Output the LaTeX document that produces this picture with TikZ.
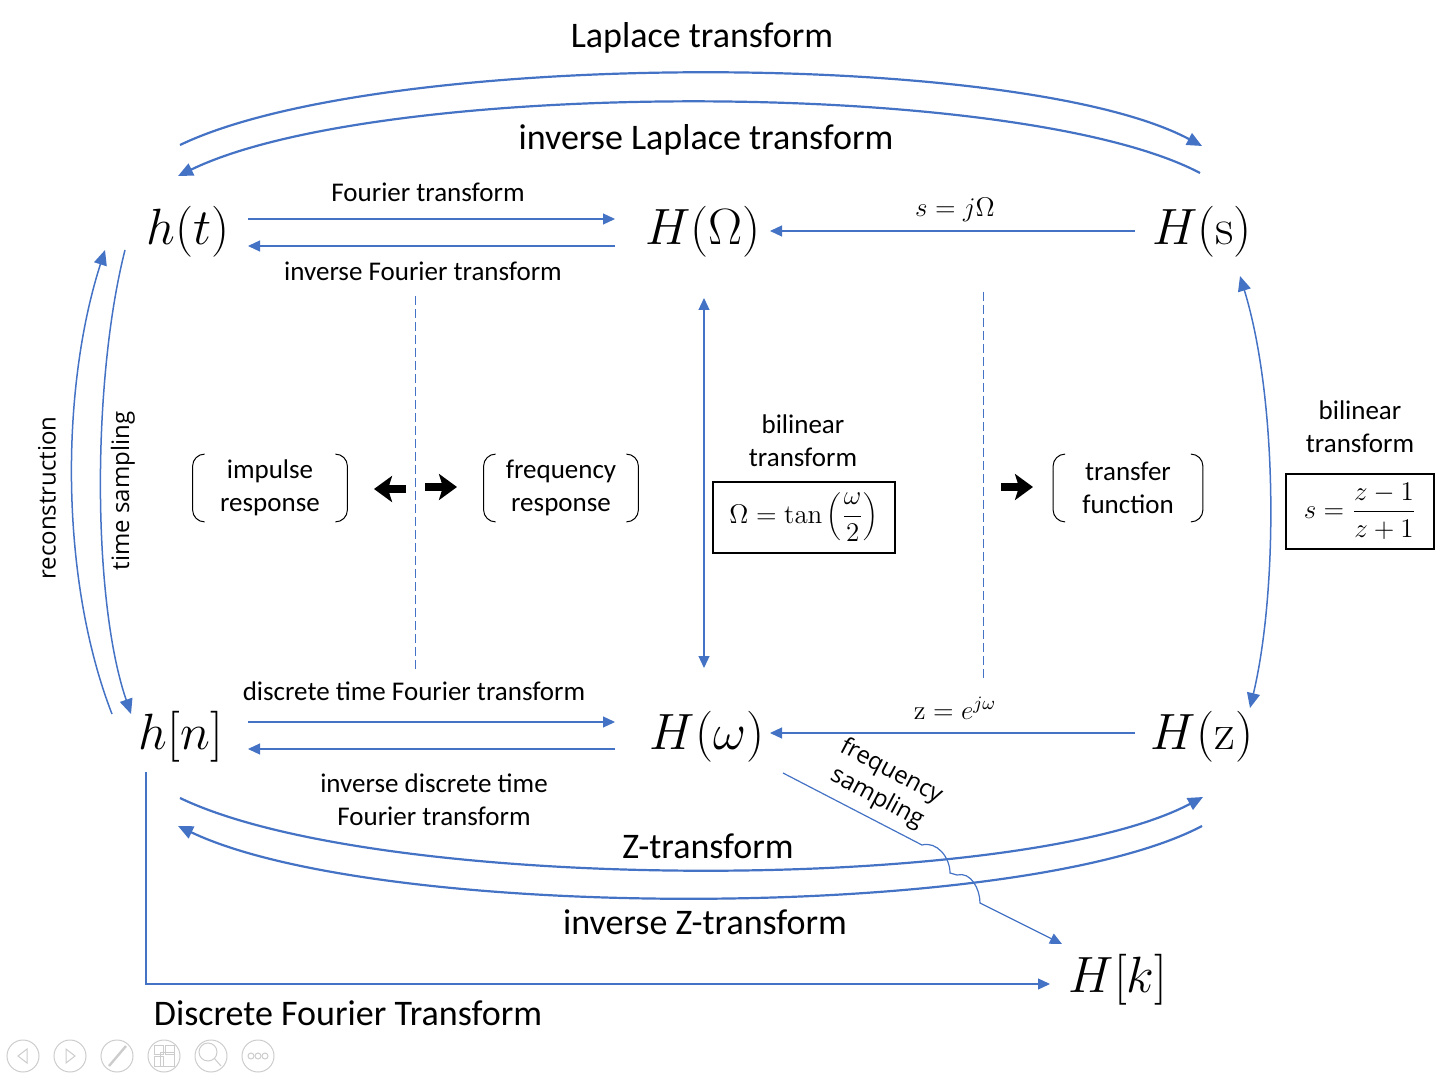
\RequirePackage{fix-cm}
\documentclass[tikz,border=0pt]{standalone}
\usepackage[no-math]{fontspec}
\setmainfont{Carlito}
\newfontfamily\uifont{Open Sans}
\usepackage{tikz}
\usetikzlibrary{arrows.meta}
\definecolor{officeBlue}{HTML}{4472C4}
\tikzset{>={Triangle[length=6pt,width=5.5pt]}}
\tikzstyle{func} = [inner sep=0pt, font=\fontsize{25.5}{30}\selectfont]
\tikzstyle{lbl} = [inner sep=0pt, align=center, font=\fontsize{13.5}{16.5}\selectfont]
\tikzstyle{bigLbl} = [inner sep=0pt, font=\fontsize{18}{21}\selectfont]
\tikzstyle{sideLbl} = [inner sep=0pt, align=center, font=\uifont\fontsize{12}{15}\selectfont]
\tikzstyle{eqBox} = [draw, line width=1pt, inner sep=0pt, font=\fontsize{13.5}{16}\selectfont]
\tikzstyle{brkNode} = [lbl, minimum height=33.5pt]
\tikzstyle{brk} = [draw, line width=0.5pt, rounded corners=6pt]
\tikzstyle{arrowLine} = [draw, officeBlue, line width=0.6pt, ->]
\tikzstyle{curveArrow} = [draw, officeBlue, line width=1.1pt, -{Triangle[length=7.5pt,width=6.5pt]}]
\tikzstyle{sepLine} = [draw, officeBlue, line width=0.5pt, dash pattern=on 4.5pt off 2pt]
\tikzstyle{bigArrow} = [draw, line width=4pt, -{Stealth[length=9pt,width=13pt,inset=2pt]}]
\tikzstyle{uiIcon} = [draw=black!20, line width=0.5pt]

\begin{document}
\begin{tikzpicture}[x=0.5pt,y=-0.5pt]
		\useasboundingbox (0,0) rectangle (1440,1080);
		\node[func](ht) at (188,232){$h(t)$};
		\node[func](HO) at (703,232){$H(\Omega)$};
		\node[func](Hs) at (1202,232){$H(\mathrm{s})$};
		\node[func](hn) at (181,737){$h[n]$};
		\node[func](Hw) at (707,737){$H(\omega)$};
		\node[func](Hz) at (1202,737){$H(\mathrm{z})$};
		\node[func](Hk) at (1118,980){$H[k]$};
		%labels
		\node[bigLbl](lapLbl) at (702,38){Laplace transform};
		\node[bigLbl](iLapLbl) at (706,140){inverse Laplace transform};
		\node[lbl](ftLbl) at (428,192){Fourier transform};
		\node[lbl](iftLbl) at (423,271){inverse Fourier transform};
		\node[lbl](sjLbl) at (955,210){$s=j\Omega$};
		\node[lbl](dtftLbl) at (414,691){discrete time Fourier transform};
		\node[lbl](idtftLbl) at (434,800){inverse discrete time\\Fourier transform};
		\node[lbl](zeLbl) at (955,708){$\mathrm{z}=e^{j\omega}$};
		\node[sideLbl,rotate=-28](fsLbl) at (884,785){frequency\\sampling};
		\node[bigLbl](ztLbl) at (708,846){Z-transform};
		\node[bigLbl](iztLbl) at (705,922){inverse Z-transform};
		\node[bigLbl](dftLbl) at (348,1013){Discrete Fourier Transform};
		\node[sideLbl,rotate=90](reconLbl) at (47,498){reconstruction};
		\node[sideLbl,rotate=90](sampLbl) at (123,491){time sampling};
		\node[lbl](bilinLbl) at (803,441){bilinear\\transform};
		\node[eqBox,minimum width=91pt,minimum height=35.5pt](tanBox) at (804,517){$\displaystyle\Omega=\tan\left(\frac{\omega}{2}\right)$};
		\node[lbl](bilinLbl2) at (1360,427){bilinear\\transform};
		\node[eqBox,minimum width=74pt,minimum height=37.5pt](sBox) at (1360,511){$\displaystyle s=\frac{z-1}{z+1}$};
		\node[brkNode,minimum width=77pt](impulse) at (270,488){impulse\\response};
		\node[brkNode,minimum width=77pt](freqResp) at (561,488){frequency\\response};
		\node[brkNode,minimum width=74.5pt](transfer) at (1128,488){transfer\\function};
		\foreach \n in {impulse,freqResp,transfer}{
			\draw[brk]([xshift=6pt]\n.north west)--(\n.north west)--(\n.south west)--([xshift=6pt]\n.south west);
			\draw[brk]([xshift=-6pt]\n.north east)--(\n.north east)--(\n.south east)--([xshift=-6pt]\n.south east);
		}
		\draw[bigArrow](406,489)--(374,489);
		\draw[bigArrow](425,487)--(457,487);
		\draw[bigArrow](1001,487)--(1033,487);
		\draw[sepLine](415,296)--(415,670);
		\draw[sepLine](983,292)--(983,680);
		%arrows
		\path[arrowLine]([shift={(60,-13)}]ht.center)--([shift={(-88,-13)}]HO.center);
		\path[arrowLine]([shift={(-88,14)}]HO.center)--([shift={(60,14)}]ht.center);
		\path[arrowLine]([shift={(-67,-1)}]Hs.center)--([shift={(67,-1)}]HO.center);
		\path[arrowLine,<->]([shift={(1,66)}]HO.center)--([shift={(-3,-69)}]Hw.center);
		\path[arrowLine]([shift={(67,-15)}]hn.center)--([shift={(-92,-15)}]Hw.center);
		\path[arrowLine]([shift={(-92,12)}]Hw.center)--([shift={(67,12)}]hn.center);
		\path[arrowLine]([shift={(-67,-4)}]Hz.center)--([shift={(63,-4)}]Hw.center);
		\path[arrowLine]([shift={(76,36)}]Hw.center)--(922,845) to[out=15,in=90] (950,873)--(957,875) to[out=15,in=90] (980,903)--([shift={(-56,-36)}]Hk.center);
		\path[arrowLine]([shift={(-35,35)}]hn.center)|-([shift={(-68,4)}]Hk.center);
		\path[curveArrow]([shift={(-8,-87)}]ht.center) .. controls (380,49) and (1020,49) .. ([shift={(0,-86)}]Hs.center);
		\path[curveArrow]([shift={(-2,-59)}]Hs.center) .. controls (1020,78) and (380,78) .. ([shift={(-10,-56)}]ht.center);
		\path[curveArrow]([shift={(-1,61)}]hn.center) .. controls (380,894) and (1020,894) .. ([shift={(1,60)}]Hz.center);
		\path[curveArrow]([shift={(0,89)}]Hz.center) .. controls (1020,922) and (380,922) .. ([shift={(-3,89)}]hn.center);
		\path[curveArrow,line width=0.75pt]([shift={(-63,18)}]ht.center) .. controls (92,380) and (92,600) .. ([shift={(-50,-23)}]hn.center);
		\path[curveArrow,line width=0.75pt]([shift={(-69,-23)}]hn.center) .. controls (60,580) and (60,390) .. ([shift={(-83,18)}]ht.center);
		\path[curveArrow,line width=0.75pt,{Triangle[length=7.5pt,width=6.5pt]}-{Triangle[length=7.5pt,width=6.5pt]}]([shift={(38,44)}]Hs.center) .. controls (1278,400) and (1278,590) .. ([shift={(48,-29)}]Hz.center);
		%slide controls
		\foreach \x in {23,70,117,164,211,258}{\draw[uiIcon](\x,1056) circle[radius=8pt];}
		\draw[uiIcon](27,1049)--(18,1056)--(27,1063)--cycle;
		\draw[uiIcon](66,1049)--(75,1056)--(66,1063)--cycle;
		\draw[uiIcon,line width=1.2pt](109,1066)--(126,1046);
		\draw[uiIcon](154,1045) rectangle (163,1054) (165,1045) rectangle (174,1054) (154,1056) rectangle (163,1066) (160,1052) rectangle (174,1066);
		\draw[uiIcon](208,1052) circle[radius=4.5pt] (214,1058)--(221,1066);
		\foreach \x in {251,258,265}{\draw[uiIcon](\x,1056) circle[radius=1.5pt];}
	\end{tikzpicture}
\end{document}
